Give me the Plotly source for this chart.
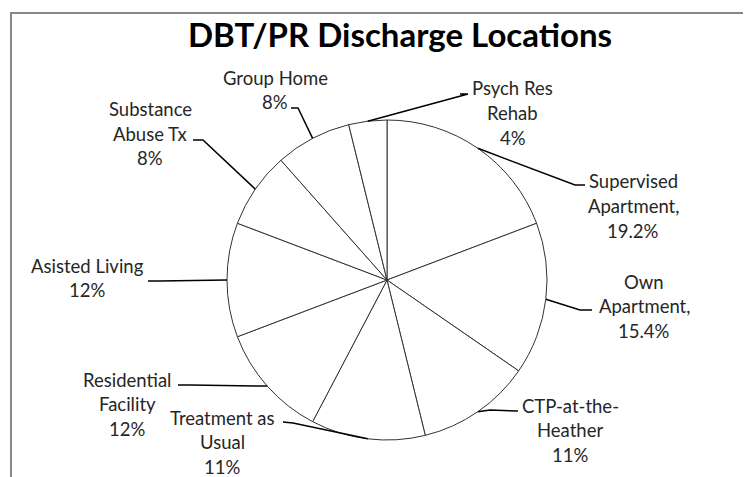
import math
import plotly.graph_objects as go

# discharge counts (n = 26), clockwise from 12 o'clock
locations = ["Supervised Apartment", "Own Apartment", "CTP-at-the-Heather",
             "Treatment as Usual", "Residential Facility", "Asisted Living",
             "Substance Abuse Tx", "Group Home", "Psych Res Rehab"]
counts = [5, 4, 3, 3, 3, 3, 2, 2, 1]
label_lines = [
    ["Supervised", "Apartment,", "19.2%"],
    ["Own", "Apartment,", "15.4%"],
    ["CTP-at-the-", "Heather", "11%"],
    ["Treatment as", "Usual", "11%"],
    ["Residential", "Facility", "12%"],
    ["Asisted Living", "12%"],
    ["Substance", "Abuse Tx", "8%"],
    ["Group Home", "8%"],
    ["Psych Res", "Rehab", "4%"],
]

# page body has an 8px margin, so the figure is sized to fit the window
OFF = 8
W, H = 751 - OFF, 477 - OFF
CX, CY, R = 387, 280, 160

# label placement (window pixels): text centre, elbow of leader, end of leader stub
label_pos = [(633, 206), (644, 306), (570, 430), (222, 442), (127, 404),
             (87, 278), (150, 134), (275, 90), (513, 113)]
elbows = [(575, 185), (580, 310), (490, 410), (293, 423), (190, 385),
          (160, 281), (203, 140), (298, 108), (468, 94)]
stubs = [(585, 185), (592, 310), (518, 411), (283, 422), (178, 385),
         (148, 281), (193, 140), (291, 108), (460, 94)]


def px(x):
    return (x - OFF) / W


def py(y):
    return 1 - (y - OFF) / H


fig = go.Figure()

fig.add_trace(go.Pie(
    labels=locations, values=counts,
    sort=False, direction="clockwise", rotation=0,
    textinfo="none", hoverinfo="label+value+percent",
    marker=dict(colors=["white"] * len(counts), line=dict(color="#333333", width=1)),
    domain=dict(x=[px(CX - R), px(CX + R)], y=[py(CY + R), py(CY - R)]),
    showlegend=False,
))

total = sum(counts)
shapes = [dict(type="rect", xref="paper", yref="paper",
               x0=px(11), x1=px(780), y0=py(500), y1=py(13),
               line=dict(color="#878787", width=2))]
annotations = []
cum = 0
for i, c in enumerate(counts):
    mid = (cum + c / 2) / total * 2 * math.pi
    cum += c
    ax = CX + R * math.sin(mid)
    ay = CY - R * math.cos(mid)
    ex, ey = elbows[i]
    sx, sy = stubs[i]
    shapes.append(dict(
        type="path", xref="paper", yref="paper",
        path=f"M {px(ax)},{py(ay)} L {px(ex)},{py(ey)} L {px(sx)},{py(sy)}",
        line=dict(color="black", width=1.5),
    ))
    lx, ly = label_pos[i]
    n = len(label_lines[i])
    for k, line in enumerate(label_lines[i]):
        annotations.append(dict(
            text=line, xref="paper", yref="paper",
            x=px(lx), y=py(ly + (k - (n - 1) / 2) * 24.5),
            xanchor="center", yanchor="middle", showarrow=False,
            font=dict(family="Lato", size=18.5, color="#262626"),
        ))

fig.update_layout(
    width=W, height=H,
    margin=dict(l=0, r=0, t=0, b=0),
    paper_bgcolor="white", plot_bgcolor="white",
    title=dict(
        text="<b>DBT/PR Discharge Locations</b>",
        x=px(400), y=py(35), xanchor="center", yanchor="middle",
        font=dict(family="Lato", size=33, color="black"),
    ),
    shapes=shapes,
    annotations=annotations,
)

fig.write_html("out.html")
